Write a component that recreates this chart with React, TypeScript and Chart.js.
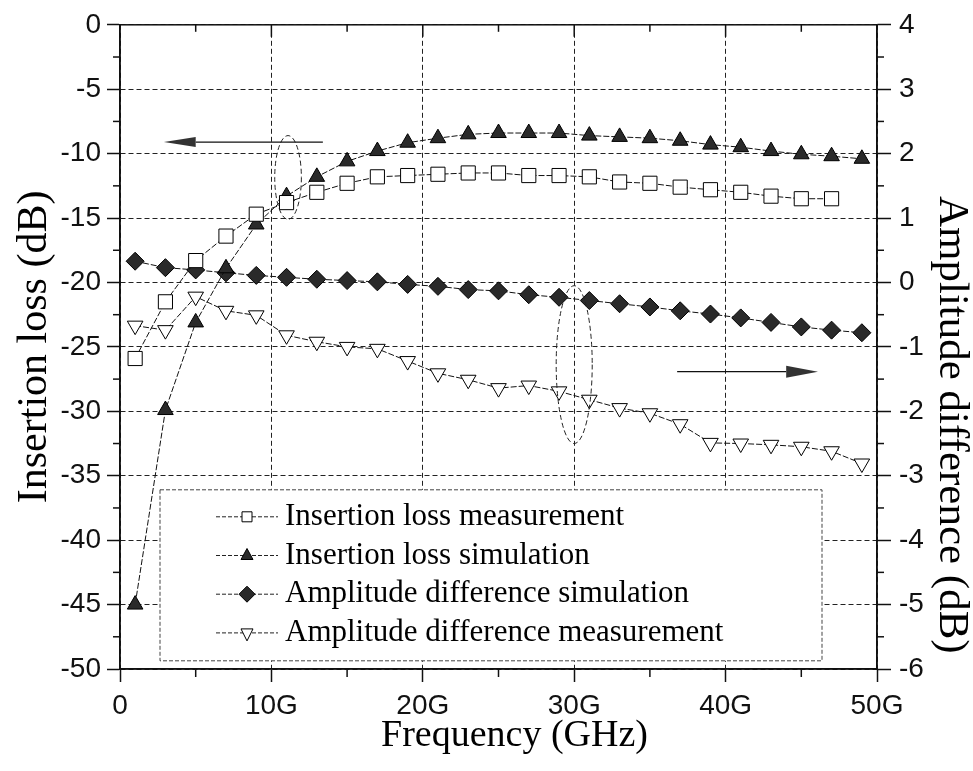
import React, { useEffect, useRef } from 'react';
import { Chart, registerables } from 'chart.js';

Chart.register(...registerables);

// ---------- data ----------
const freqGHz = [1, 3, 5, 7, 9, 11, 13, 15, 17, 19, 21, 23, 25, 27, 29, 31, 33, 35, 37, 39, 41, 43, 45, 47, 49];

const insertionLossMeasured = [
  -25.9, -21.5, -18.3, -16.4, -14.7, -13.8, -13.0, -12.3, -11.8, -11.7, -11.6, -11.5,
  -11.5, -11.7, -11.7, -11.8, -12.2, -12.3, -12.6, -12.8, -13.0, -13.3, -13.5, -13.5,
];
const insertionLossSimulated = [
  -45.0, -29.9, -23.1, -18.9, -15.5, -13.3, -11.8, -10.6, -9.8, -9.15, -8.8, -8.5,
  -8.4, -8.4, -8.4, -8.6, -8.7, -8.8, -9.0, -9.3, -9.5, -9.8, -10.05, -10.2, -10.4,
];
const amplitudeDiffSimulated = [
  0.33, 0.23, 0.195, 0.15, 0.11, 0.08, 0.05, 0.03, 0.01, -0.03, -0.06, -0.11,
  -0.13, -0.19, -0.23, -0.28, -0.33, -0.38, -0.44, -0.49, -0.55, -0.62, -0.69, -0.74, -0.78,
];
const amplitudeDiffMeasured = [
  -0.67, -0.74, -0.22, -0.44, -0.51, -0.82, -0.92, -1.0, -1.03, -1.22, -1.41, -1.51,
  -1.64, -1.6, -1.69, -1.82, -1.95, -2.03, -2.2, -2.49, -2.5, -2.52, -2.55, -2.62, -2.81,
];

const seriesLabels = [
  'Insertion loss measurement',
  'Insertion loss simulation',
  'Amplitude difference simulation',
  'Amplitude difference measurement',
];

const xMinorTicks = [5, 15, 25, 35, 45];
const xMajorTicks = [10, 20, 30, 40];
const yMinorTicks = [-2.5, -7.5, -12.5, -17.5, -22.5, -27.5, -32.5, -37.5, -42.5, -47.5];
const y2MinorTicks = [3.5, 2.5, 1.5, 0.5, -0.5, -1.5, -2.5, -3.5, -4.5, -5.5];

// annotation anchors (in data units)
const leftEllipse = { x: 11.1, halfW: 0.88, top: -8.6, bottom: -15.1 }; // left axis
const rightEllipse = { x: 30, halfW: 1.19, top: -0.05, bottom: -2.5 }; // right axis
const leftArrow = { y: -9.1, tail: 13.4, base: 5.0, tip: 2.9 }; // left axis
const rightArrow = { y: -1.385, tail: 36.8, base: 44.0, tip: 46.1 }; // right axis

const SERIF = '"Liberation Serif", "Times New Roman", serif';
const SANS = '"Liberation Sans", Arial, sans-serif';
const DARK = '#2a2a2a';

function drawMarker(ctx: CanvasRenderingContext2D, kind: number, cx: number, cy: number) {
  ctx.save();
  ctx.setLineDash([]);
  ctx.lineWidth = 1;
  ctx.strokeStyle = '#000';
  ctx.beginPath();
  if (kind === 0) {
    ctx.rect(cx - 5, cy - 5, 10, 10);
    ctx.fillStyle = '#fff';
  } else if (kind === 1) {
    ctx.moveTo(cx, cy - 7);
    ctx.lineTo(cx + 6, cy + 4);
    ctx.lineTo(cx - 6, cy + 4);
    ctx.closePath();
    ctx.fillStyle = DARK;
  } else if (kind === 2) {
    ctx.moveTo(cx, cy - 8);
    ctx.lineTo(cx + 8, cy);
    ctx.lineTo(cx, cy + 8);
    ctx.lineTo(cx - 8, cy);
    ctx.closePath();
    ctx.fillStyle = DARK;
  } else {
    ctx.moveTo(cx, cy + 8);
    ctx.lineTo(cx + 6, cy - 4);
    ctx.lineTo(cx - 6, cy - 4);
    ctx.closePath();
    ctx.fillStyle = '#fff';
  }
  ctx.fill();
  ctx.stroke();
  ctx.restore();
}

const extrasPlugin = {
  id: 'extras',
  afterDraw(chart: any) {
    const { ctx, chartArea: ca, scales } = chart;
    const sx = scales.x;
    const sy = scales.y;
    const sy2 = scales.y2;
    const line = (x1: number, y1: number, x2: number, y2: number) => {
      ctx.beginPath();
      ctx.moveTo(x1, y1);
      ctx.lineTo(x2, y2);
      ctx.stroke();
    };
    ctx.save();
    // frame
    ctx.setLineDash([]);
    ctx.strokeStyle = '#111';
    ctx.lineWidth = 1.5;
    ctx.strokeRect(ca.left, ca.top, ca.right - ca.left, ca.bottom - ca.top);
    // minor ticks
    xMinorTicks.forEach((v) => {
      const px = sx.getPixelForValue(v);
      line(px, ca.bottom, px, ca.bottom + 8);
      line(px, ca.top, px, ca.top + 7);
    });
    xMajorTicks.forEach((v) => {
      const px = sx.getPixelForValue(v);
      line(px, ca.top, px, ca.top + 12);
    });
    yMinorTicks.forEach((v) => {
      const py = sy.getPixelForValue(v);
      line(ca.left - 7, py, ca.left, py);
    });
    y2MinorTicks.forEach((v) => {
      const py = sy2.getPixelForValue(v);
      line(ca.right, py, ca.right + 7, py);
    });

    // ellipses
    ctx.lineWidth = 1;
    ctx.setLineDash([5, 3]);
    ctx.strokeStyle = '#222';
    {
      const cx = sx.getPixelForValue(leftEllipse.x);
      const rx = sx.getPixelForValue(leftEllipse.x + leftEllipse.halfW) - cx;
      const t = sy.getPixelForValue(leftEllipse.top);
      const b = sy.getPixelForValue(leftEllipse.bottom);
      ctx.beginPath();
      ctx.ellipse(cx, (t + b) / 2, rx, (b - t) / 2, 0, 0, Math.PI * 2);
      ctx.stroke();
    }
    {
      const cx = sx.getPixelForValue(rightEllipse.x);
      const rx = sx.getPixelForValue(rightEllipse.x + rightEllipse.halfW) - cx;
      const t = sy2.getPixelForValue(rightEllipse.top);
      const b = sy2.getPixelForValue(rightEllipse.bottom);
      ctx.beginPath();
      ctx.ellipse(cx, (t + b) / 2, rx, (b - t) / 2, 0, 0, Math.PI * 2);
      ctx.stroke();
    }
    // arrows
    ctx.setLineDash([]);
    ctx.lineWidth = 1.3;
    ctx.strokeStyle = '#111';
    ctx.fillStyle = '#333';
    {
      const y = sy.getPixelForValue(leftArrow.y);
      const tail = sx.getPixelForValue(leftArrow.tail);
      const base = sx.getPixelForValue(leftArrow.base);
      const tip = sx.getPixelForValue(leftArrow.tip);
      line(tail, y, base, y);
      ctx.beginPath();
      ctx.moveTo(tip, y);
      ctx.lineTo(base, y - 5);
      ctx.lineTo(base, y + 5);
      ctx.closePath();
      ctx.fill();
    }
    {
      const y = sy2.getPixelForValue(rightArrow.y);
      const tail = sx.getPixelForValue(rightArrow.tail);
      const base = sx.getPixelForValue(rightArrow.base);
      const tip = sx.getPixelForValue(rightArrow.tip);
      line(tail, y, base, y);
      ctx.beginPath();
      ctx.moveTo(tip, y);
      ctx.lineTo(base, y - 6);
      ctx.lineTo(base, y + 6);
      ctx.closePath();
      ctx.fill();
    }

    // legend
    const lx = ca.left + 40;
    const ly = ca.top + 465;
    const lw = 662;
    const lh = 171;
    ctx.fillStyle = '#fff';
    ctx.fillRect(lx, ly, lw, lh);
    ctx.setLineDash([4, 2]);
    ctx.lineWidth = 1;
    ctx.strokeStyle = '#444';
    ctx.strokeRect(lx, ly, lw, lh);
    ctx.font = `31px ${SERIF}`;
    ctx.fillStyle = '#000';
    ctx.textAlign = 'left';
    ctx.textBaseline = 'middle';
    seriesLabels.forEach((label, i) => {
      const cy = ly + 27 + i * 38.7;
      ctx.setLineDash([4, 2]);
      ctx.strokeStyle = '#222';
      ctx.lineWidth = 1;
      line(lx + 56, cy, lx + 118, cy);
      drawMarker(ctx, i, lx + 87, cy);
      ctx.fillText(label, lx + 125, cy);
    });

    // axis titles
    ctx.setLineDash([]);
    ctx.fillStyle = '#000';
    ctx.textBaseline = 'alphabetic';
    ctx.textAlign = 'center';
    ctx.font = `38px ${SERIF}`;
    ctx.fillText('Frequency (GHz)', (ca.left + ca.right) / 2 + 16, ca.bottom + 77);

    ctx.save();
    ctx.font = `42px ${SERIF}`;
    ctx.translate(ca.left - 74, (ca.top + ca.bottom) / 2);
    ctx.rotate(-Math.PI / 2);
    ctx.fillText('Insertion loss (dB)', 0, 0);
    ctx.restore();

    ctx.save();
    ctx.font = `43px ${SERIF}`;
    ctx.translate(ca.right + 63, ca.top + 400);
    ctx.rotate(Math.PI / 2);
    ctx.fillText('Amplitude difference (dB)', 0, 0);
    ctx.restore();

    ctx.restore();
  },
};

function toPoints(values: number[]) {
  return values.map((v, i) => ({ x: freqGHz[i], y: v }));
}

export default function App() {
  const canvasRef = useRef<HTMLCanvasElement | null>(null);

  useEffect(() => {
    const canvas = canvasRef.current;
    if (!canvas) return;
    const lineCommon = {
      borderColor: '#111',
      borderWidth: 1,
      borderDash: [6, 2],
      pointBorderColor: '#000',
      pointBorderWidth: 1,
      pointHoverRadius: 9,
      tension: 0,
      fill: false,
    };
    const chart = new Chart(canvas, {
      type: 'line',
      data: {
        datasets: [
          {
            ...lineCommon,
            label: seriesLabels[0],
            data: toPoints(insertionLossMeasured),
            yAxisID: 'y',
            pointStyle: 'rect',
            pointRadius: 10,
            pointBackgroundColor: '#fff',
          },
          {
            ...lineCommon,
            label: seriesLabels[1],
            data: toPoints(insertionLossSimulated),
            yAxisID: 'y',
            pointStyle: 'triangle',
            pointRadius: 9,
            pointBackgroundColor: DARK,
          },
          {
            ...lineCommon,
            label: seriesLabels[2],
            data: toPoints(amplitudeDiffSimulated),
            yAxisID: 'y2',
            pointStyle: 'rectRot',
            pointRadius: 9,
            pointBackgroundColor: DARK,
          },
          {
            ...lineCommon,
            label: seriesLabels[3],
            data: toPoints(amplitudeDiffMeasured),
            yAxisID: 'y2',
            pointStyle: 'triangle',
            pointRotation: 180,
            pointRadius: 9,
            pointBackgroundColor: '#fff',
          },
        ],
      },
      options: {
        responsive: false,
        animation: false,
        layout: { padding: { top: 20, left: 0, right: 0, bottom: 0 } },
        plugins: {
          legend: { display: false },
          tooltip: { enabled: false },
        },
        scales: {
          x: {
            type: 'linear',
            position: 'bottom',
            min: 0,
            max: 50,
            ticks: {
              stepSize: 10,
              autoSkip: false,
              maxRotation: 0,
              padding: 7,
              color: '#111',
              font: { family: SANS, size: 28 },
              callback: (v: any) => (Number(v) === 0 ? '0' : `${v}G`),
            },
            grid: { color: '#222', lineWidth: 1, tickLength: 13, tickColor: '#111', tickWidth: 1.5 },
            border: { display: true, color: '#111', width: 1.5, dash: [5, 3] },
            afterFit: (s: any) => {
              s.height = 102;
            },
          },
          y: {
            type: 'linear',
            position: 'left',
            min: -50,
            max: 0,
            ticks: {
              stepSize: 5,
              padding: 6,
              color: '#111',
              font: { family: SANS, size: 28 },
            },
            grid: { color: '#222', lineWidth: 1, tickLength: 13, tickColor: '#111', tickWidth: 1.5 },
            border: { display: true, color: '#111', width: 1.5, dash: [5, 3] },
            afterFit: (s: any) => {
              s.width = 120;
            },
          },
          y2: {
            type: 'linear',
            position: 'right',
            min: -6,
            max: 4,
            ticks: {
              stepSize: 1,
              padding: 8,
              color: '#111',
              font: { family: SANS, size: 28 },
            },
            grid: { drawOnChartArea: false, tickLength: 14, tickColor: '#111', tickWidth: 1.5 },
            border: { display: true, color: '#111', width: 1.5 },
            afterFit: (s: any) => {
              s.width = 96;
            },
          },
        },
      },
      plugins: [extrasPlugin],
    } as any);
    return () => chart.destroy();
  }, []);

  return (
    <div style={{ position: 'absolute', left: 0, top: 0, width: 973, height: 771, background: '#fff' }}>
      <canvas ref={canvasRef} width={973} height={771} style={{ display: 'block' }} />
    </div>
  );
}
